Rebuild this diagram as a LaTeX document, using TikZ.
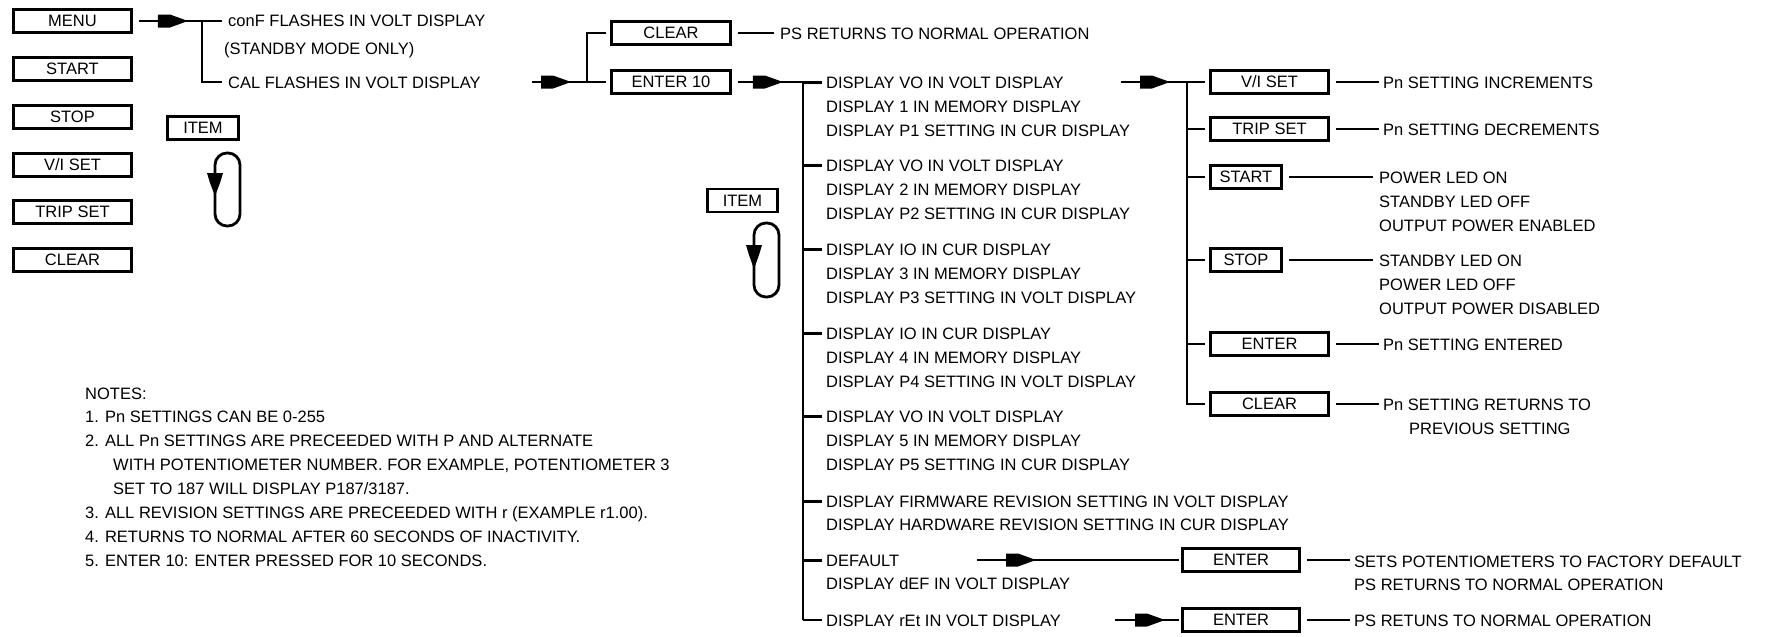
\documentclass[tikz,border=0pt]{standalone}
\usepackage{fontspec}
\setmainfont{Liberation Sans}
\usetikzlibrary{arrows.meta,decorations.markings}
\newcommand{\fsz}{\fontsize{16.5}{20}\selectfont}
\tikzset{
  conn/.style={line width=2.8pt},
  btn/.style={draw, line width=2.9pt, minimum height=23pt, inner sep=0pt, text height=11.8pt, text depth=0pt, font=\fsz},
  lbl/.style={anchor=base west, inner sep=0pt, font=\fsz},
  midarrow/.style={postaction={decorate}, decoration={markings, mark=at position #1 with {\fill (-30pt,-6.5pt) -- (-18pt,-6.5pt) -- (0pt,0pt) -- (-18pt,6.5pt) -- (-30pt,6.5pt) -- cycle;}}},
  loopline/.style={line width=2.8pt, rounded corners=12pt}
}
\begin{document}
\begin{tikzpicture}[x=1pt,y=-1pt]
\useasboundingbox (0,0) rectangle (1765,637);

% ---------- left column of keys
\node[btn,minimum width=118pt] (menu)  at (72.5,21)  {MENU};
\node[btn,minimum width=118pt] (startL) at (72.5,69)  {START};
\node[btn,minimum width=118pt] (stopL)  at (72.5,117) {STOP};
\node[btn,minimum width=118pt] (visetL) at (72.5,165) {V/I SET};
\node[btn,minimum width=118pt] (tripL)  at (72.5,212) {TRIP SET};
\node[btn,minimum width=118pt] (clearL) at (72.5,260) {CLEAR};

% ---------- ITEM (left)
\node[btn,minimum width=71pt] (itemL) at (203,128) {ITEM};
\draw[loopline] (215,153) rectangle (240,226);
\fill (207,173) -- (223,173) -- (220,183) -- (215,196) -- (210,183) -- cycle;

% ---------- MENU branch
\node[lbl] (conf) at (228,27) {conF FLASHES IN VOLT DISPLAY};
\node[lbl] (stby) at (224,54) {(STANDBY MODE ONLY)};
\node[lbl] (cal)  at (228,88) {CAL FLASHES IN VOLT DISPLAY};
\coordinate (j1) at (202,21);
\coordinate (j1b) at (202,82);
\draw[conn,midarrow=49pt] ([xshift=6pt]menu.east) -- (j1) -- ([xshift=-6pt]conf.west |- j1);
\draw[conn] (j1) -- (j1b) -- ([xshift=-6pt]cal.west |- j1b);

% ---------- CAL -> CLEAR / ENTER 10
\node[btn,minimum width=119pt] (clear1)  at (671,33) {CLEAR};
\node[btn,minimum width=119pt] (enter10) at (671,82) {ENTER 10};
\coordinate (a2) at (532,82);
\coordinate (j2) at (587,82);
\draw[conn,midarrow=39pt] (a2) -- (j2);
\draw[conn] (j2) |- ([xshift=-4pt]clear1.west);
\draw[conn] (j2) -- ([xshift=-4pt]enter10.west);
\node[lbl] (psret) at (780,39) {PS RETURNS TO NORMAL OPERATION};
\draw[conn] ([xshift=6pt]clear1.east) -- ([xshift=-6pt]psret.west |- clear1);

% ---------- ENTER 10 -> display list
\coordinate (b0) at (803,82);
\draw[conn,midarrow=45pt] ([xshift=6pt]enter10.east) -- (b0);
\coordinate (b8) at (803,620);
\draw[conn] (b0) -- (b8);

\node[lbl] (g1a) at (826,88)  {DISPLAY VO IN VOLT DISPLAY};
\node[lbl] (g1b) at (826,112) {DISPLAY 1 IN MEMORY DISPLAY};
\node[lbl] (g1c) at (826,136) {DISPLAY P1 SETTING IN CUR DISPLAY};
\node[lbl] (g2a) at (826,171) {DISPLAY VO IN VOLT DISPLAY};
\node[lbl] (g2b) at (826,195) {DISPLAY 2 IN MEMORY DISPLAY};
\node[lbl] (g2c) at (826,219) {DISPLAY P2 SETTING IN CUR DISPLAY};
\node[lbl] (g3a) at (826,255) {DISPLAY IO IN CUR DISPLAY};
\node[lbl] (g3b) at (826,279) {DISPLAY 3 IN MEMORY DISPLAY};
\node[lbl] (g3c) at (826,303) {DISPLAY P3 SETTING IN VOLT DISPLAY};
\node[lbl] (g4a) at (826,339) {DISPLAY IO IN CUR DISPLAY};
\node[lbl] (g4b) at (826,363) {DISPLAY 4 IN MEMORY DISPLAY};
\node[lbl] (g4c) at (826,387) {DISPLAY P4 SETTING IN VOLT DISPLAY};
\node[lbl] (g5a) at (826,422) {DISPLAY VO IN VOLT DISPLAY};
\node[lbl] (g5b) at (826,446) {DISPLAY 5 IN MEMORY DISPLAY};
\node[lbl] (g5c) at (826,470) {DISPLAY P5 SETTING IN CUR DISPLAY};
\node[lbl] (g6a) at (826,507) {DISPLAY FIRMWARE REVISION SETTING IN VOLT DISPLAY};
\node[lbl] (g6b) at (826,530) {DISPLAY HARDWARE REVISION SETTING IN CUR DISPLAY};
\node[lbl] (g7a) at (826,566) {DEFAULT};
\node[lbl] (g7b) at (826,589) {DISPLAY dEF IN VOLT DISPLAY};
\node[lbl] (g8a) at (826,626) {DISPLAY rEt IN VOLT DISPLAY};

\foreach \g in {g1a,g2a,g3a,g4a,g5a,g6a,g7a}
  \draw[conn] (b0 |- \g.west) -- ([xshift=-4pt]\g.west);
\draw[conn] (b8) -- ([xshift=-4pt]g8a.west |- b8);

% ---------- ITEM (middle)
\node[btn,minimum width=70pt] (itemM) at (742.5,200.5) {ITEM};
\draw[loopline] (754,223) rectangle (779,297);
\fill (746,245) -- (762,245) -- (759,255) -- (754,269) -- (749,255) -- cycle;

% ---------- display -> key functions
\coordinate (c0) at (1187,82);
\coordinate (a3) at (1121,82);
\draw[conn,midarrow=49pt] (a3) -- (c0);
\node[btn,minimum width=118pt] (visetR)  at (1269.5,82)  {V/I SET};
\node[btn,minimum width=118pt] (tripR)   at (1269.5,129) {TRIP SET};
\node[btn,minimum width=71pt]  (startR)  at (1246,177)   {START};
\node[btn,minimum width=71pt]  (stopR)   at (1246,260)   {STOP};
\node[btn,minimum width=118pt] (enterR)  at (1269.5,344) {ENTER};
\node[btn,minimum width=118pt] (clearR)  at (1269.5,404) {CLEAR};
\draw[conn] (c0) |- ([xshift=-4pt]clearR.west);
\foreach \k in {visetR,tripR,startR,stopR,enterR}
  \draw[conn] (c0 |- \k.west) -- ([xshift=-4pt]\k.west);

\node[lbl] (tvi)   at (1383,88)  {Pn SETTING INCREMENTS};
\node[lbl] (ttrip) at (1383,135) {Pn SETTING DECREMENTS};
\node[lbl] (tsta)  at (1379,183) {POWER LED ON};
\node[lbl] (tstb)  at (1379,207) {STANDBY LED OFF};
\node[lbl] (tstc)  at (1379,231) {OUTPUT POWER ENABLED};
\node[lbl] (tspa)  at (1379,266) {STANDBY LED ON};
\node[lbl] (tspb)  at (1379,290) {POWER LED OFF};
\node[lbl] (tspc)  at (1379,314) {OUTPUT POWER DISABLED};
\node[lbl] (tent)  at (1383,350) {Pn SETTING ENTERED};
\node[lbl] (tclr)  at (1383,410) {Pn SETTING RETURNS TO};
\node[lbl] (tclr2) at (1409,434) {PREVIOUS SETTING};

\draw[conn] ([xshift=6pt]visetR.east) -- ([xshift=-4pt]tvi.west |- visetR);
\draw[conn] ([xshift=6pt]tripR.east)  -- ([xshift=-4pt]ttrip.west |- tripR);
\draw[conn] ([xshift=6pt]startR.east) -- ([xshift=-6pt]tsta.west |- startR);
\draw[conn] ([xshift=6pt]stopR.east)  -- ([xshift=-6pt]tspa.west |- stopR);
\draw[conn] ([xshift=6pt]enterR.east) -- ([xshift=-4pt]tent.west |- enterR);
\draw[conn] ([xshift=6pt]clearR.east) -- ([xshift=-4pt]tclr.west |- clearR);

% ---------- DEFAULT and rEt
\node[btn,minimum width=117pt] (enterD) at (1241,560) {ENTER};
\node[btn,minimum width=117pt] (enterE) at (1241,620) {ENTER};
\coordinate (a4) at (977,560);
\coordinate (a5) at (1115,620);
\draw[conn,midarrow=59pt] (a4) -- ([xshift=-2pt]enterD.west);
\draw[conn,midarrow=50pt] (a5) -- ([xshift=-2pt]enterE.west);
\node[lbl] (tdef1) at (1354,567) {SETS POTENTIOMETERS TO FACTORY DEFAULT};
\node[lbl] (tdef2) at (1354,590) {PS RETURNS TO NORMAL OPERATION};
\node[lbl] (tret)  at (1354,626) {PS RETUNS TO NORMAL OPERATION};
\draw[conn] ([xshift=6pt]enterD.east) -- ([xshift=-4pt]tdef1.west |- enterD);
\draw[conn] ([xshift=6pt]enterE.east) -- ([xshift=-4pt]tret.west |- enterE);

% ---------- notes
\node[lbl] (n0) at (85,399) {NOTES:};
\node[lbl] (n1) at (85,422) {1. Pn SETTINGS CAN BE 0-255};
\node[lbl] (n2) at (85,446) {2. ALL Pn SETTINGS ARE PRECEEDED WITH P AND ALTERNATE};
\node[lbl] (n2b) at (113,470) {WITH POTENTIOMETER NUMBER. FOR EXAMPLE, POTENTIOMETER 3};
\node[lbl] (n2c) at (113,494) {SET TO 187 WILL DISPLAY P187/3187.};
\node[lbl] (n3) at (85,518) {3. ALL REVISION SETTINGS ARE PRECEEDED WITH r (EXAMPLE r1.00).};
\node[lbl] (n4) at (85,542) {4. RETURNS TO NORMAL AFTER 60 SECONDS OF INACTIVITY.};
\node[lbl] (n5) at (85,566) {5. ENTER 10: ENTER PRESSED FOR 10 SECONDS.};
\end{tikzpicture}
\end{document}
